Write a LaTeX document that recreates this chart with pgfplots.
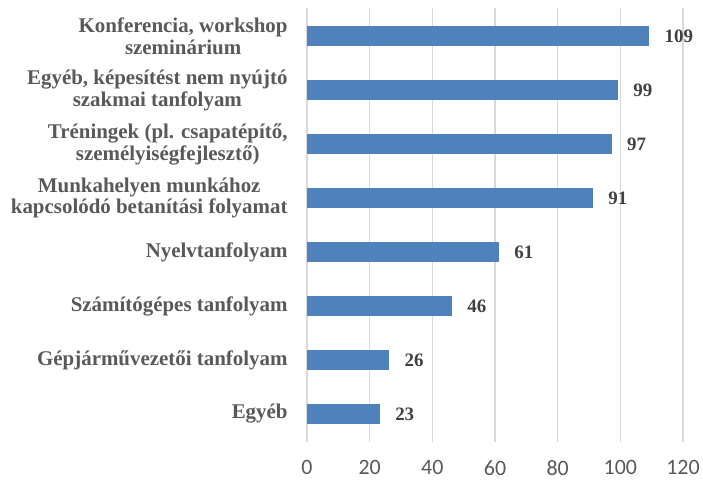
\documentclass[border=0pt]{standalone}
\usepackage{fontspec}
\setmainfont{Liberation Serif}
\newfontfamily\tickfont{Carlito}
\usepackage{pgfplots}
\pgfplotsset{compat=1.18}
\definecolor{barblue}{HTML}{4F81BD}
\definecolor{gridgray}{HTML}{D9D9D9}
\definecolor{labgray}{HTML}{595959}
\definecolor{valgray}{HTML}{404040}
\begin{document}
\begin{tikzpicture}
\useasboundingbox (0,0) rectangle (703bp,481bp);
\begin{axis}[
  at={(307bp,39bp)}, anchor=south west,
  scale only axis, width=376bp, height=434bp,
  xbar, bar width=19bp,
  xmin=0, xmax=120, xtick={0,20,...,120},
  ymin=-0.52, ymax=7.52,
  ytick={0,...,7},
  yticklabels={{Egyéb},{Gépjárművezetői tanfolyam},{Számítógépes tanfolyam},{Nyelvtanfolyam},{Munkahelyen munkához\\kapcsolódó betanítási folyamat},{Tréningek (pl. csapatépítő,\\személyiségfejlesztő)},{Egyéb, képesítést nem nyújtó\\szakmai tanfolyam},{Konferencia, workshop\\szeminárium}},
  xmajorgrids, major grid style={draw=gridgray, line width=1.3bp},
  axis line style={draw=none},
  tick style={draw=none},
  /pgf/number format/assume math mode=true,
  xticklabel style={font=\tickfont\fontsize{22}{22}\selectfont, text=labgray, inner sep=0pt, yshift=-18bp},
  yticklabel style={font=\bfseries\fontsize{21}{22}\selectfont, align=center, text=labgray, inner sep=0pt, xshift=-15bp},
  nodes near coords,
  nodes near coords style={font=\bfseries\fontsize{19}{19}\selectfont, text=valgray, anchor=west, inner sep=0pt, xshift=16bp},
]
\addplot[fill=barblue, draw=barblue] coordinates {(23,0) (26,1) (46,2) (61,3) (91,4) (97,5) (99,6) (109,7)};
\end{axis}
\end{tikzpicture}
\end{document}
